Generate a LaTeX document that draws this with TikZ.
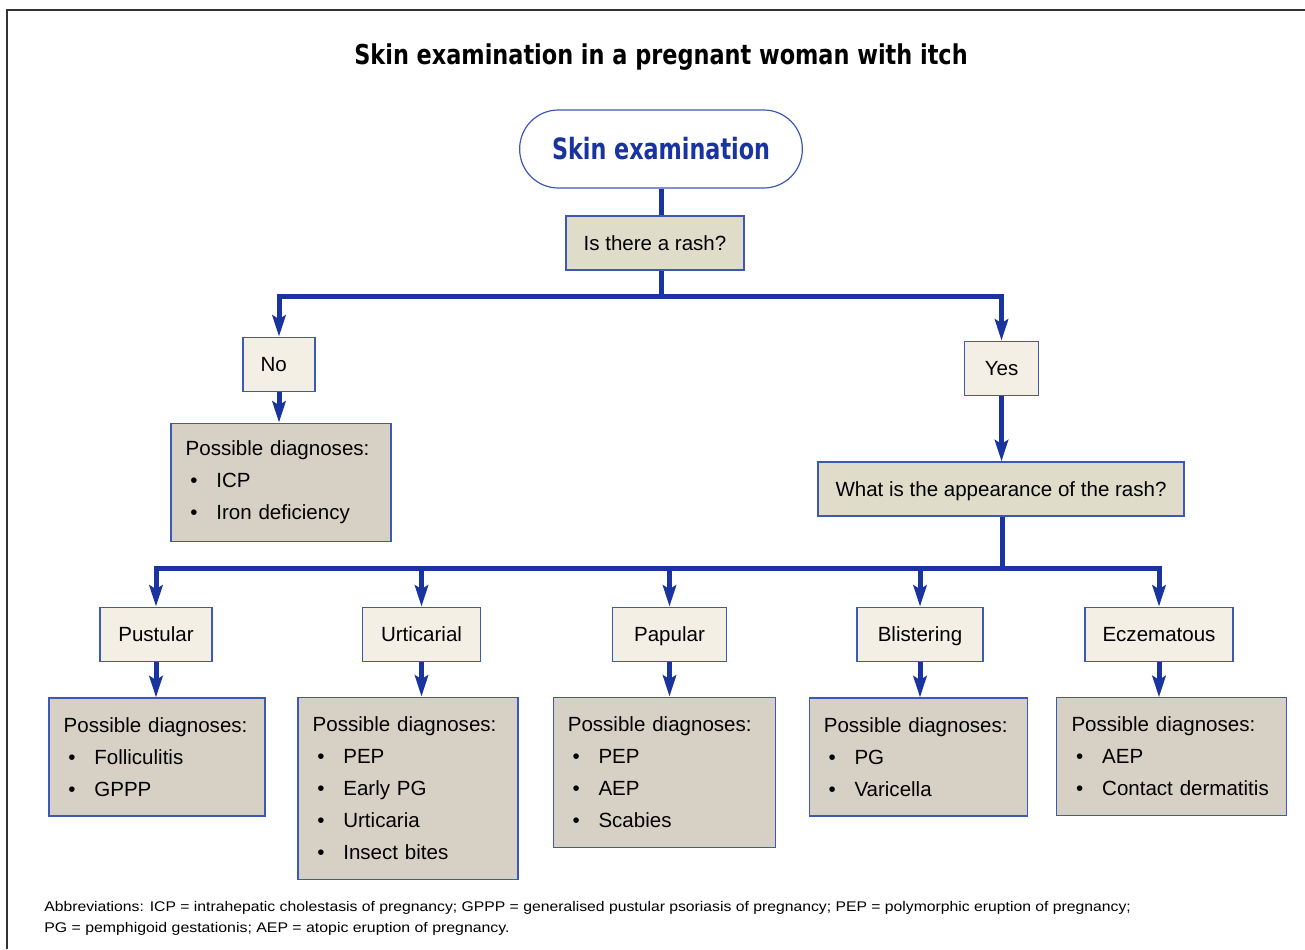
\documentclass[tikz,border=0pt]{standalone}
\usepackage{fontspec}
\setmainfont{Liberation Sans}
\newfontfamily\condfont{DejaVu Sans Condensed Bold}
\usetikzlibrary{arrows.meta}
\definecolor{flowblue}{RGB}{25,52,158}
\definecolor{edgeblue}{RGB}{62,88,182}
\definecolor{askfill}{RGB}{223,220,202}
\definecolor{answerfill}{RGB}{243,239,228}
\definecolor{dxfill}{RGB}{214,209,196}
\newcommand{\dxitem}[1]{\makebox[23pt][l]{\hspace{3.5pt}\textbullet}#1}
\begin{document}
\begin{tikzpicture}[x=0.75pt, y=-0.75pt,
    font=\fontsize{15.4}{24}\selectfont,
    box/.style={draw=edgeblue, line width=0.9pt, inner sep=0pt, minimum height=41pt,
      text height=13pt, text depth=2pt},
    ask/.style={box, fill=askfill, minimum height=40.5pt},
    answer/.style={box, fill=answerfill},
    dx/.style={draw=edgeblue, line width=0.9pt, fill=dxfill, inner xsep=11pt, inner ysep=0pt,
      text width=#1, align=left},
    link/.style={flowblue, line width=3.75pt},
    arrow/.style={link, -{Stealth[length=16pt, width=10pt, inset=3pt]}}]
  % the page is the 1305 x 949 px reference, so coordinates below are in its pixels
  \useasboundingbox (0,0) rectangle (1305,949);
  \draw[black!80, line width=1.5pt] (1305,10) -- (7,10) -- (7,949);
  \node (title) at (661,57) {\resizebox{460pt}{\height}{\fontsize{20.5}{24}\condfont Skin examination in a pregnant woman with itch}};
  \node[draw=edgeblue, line width=0.9pt, fill=white, minimum width=212pt, minimum height=58.5pt,
    rounded corners=29pt, text=flowblue] (skin) at (661,149)
    {\resizebox{163.5pt}{\height}{\fontsize{22}{24}\condfont Skin examination}};
  \node[ask, minimum width=133.5pt] (rash) at (655,243) {Is there a rash?};
  \node[answer, minimum width=54pt] (no) at (279,364.5) {\hspace{-8pt}No};
  \node[answer, minimum width=56pt] (yes) at (1001.5,368.5) {Yes};
  \node[dx=143pt, minimum height=89pt] (nodx) at (281,482.5)
    {Possible diagnoses:\\ \dxitem{ICP}\\ \dxitem{Iron deficiency}};
  \node[ask, minimum width=274.5pt] (look) at (1001,489) {What is the appearance of the rash?};
  % the five kinds of rash
  \node[answer, minimum width=84pt] (pust) at (156,634.5) {Pustular};
  \node[answer, minimum width=89pt] (urti) at (421.5,634.5) {Urticarial};
  \node[answer, minimum width=85pt] (papu) at (669.5,634.5) {Papular};
  \node[answer, minimum width=94.5pt] (blis) at (920,634.5) {Blistering};
  \node[answer, minimum width=111pt] (ecze) at (1159,634.5) {Eczematous};
  \node[dx=140pt, minimum height=88.5pt] (pustdx) at (157,757)
    {Possible diagnoses:\\ \dxitem{Folliculitis}\\ \dxitem{GPPP}};
  \node[dx=143pt, minimum height=137pt] (urtidx) at (408,788.5)
    {Possible diagnoses:\\ \dxitem{PEP}\\ \dxitem{Early PG}\\ \dxitem{Urticaria}\\ \dxitem{Insect bites}};
  \node[dx=145pt, minimum height=113pt] (papudx) at (664.5,772.5)
    {Possible diagnoses:\\ \dxitem{PEP}\\ \dxitem{AEP}\\ \dxitem{Scabies}};
  \node[dx=142pt, minimum height=88.5pt] (blisdx) at (918.5,757)
    {Possible diagnoses:\\ \dxitem{PG}\\ \dxitem{Varicella}};
  \node[dx=150pt, minimum height=88pt] (eczedx) at (1171.5,756.5)
    {Possible diagnoses:\\ \dxitem{AEP}\\ \dxitem{Contact dermatitis}};
  \node[anchor=north west, align=left, inner sep=0pt, font=\fontsize{10.5}{15.5}\selectfont] (abbrev) at (44,901)
    {\resizebox{815pt}{\height}{Abbreviations: ICP = intrahepatic cholestasis of pregnancy; GPPP = generalised pustular psoriasis of pregnancy; PEP = polymorphic eruption of pregnancy;}\\
     \resizebox{349pt}{\height}{PG = pemphigoid gestationis; AEP = atopic eruption of pregnancy.}};
  % forks: rash question at y = 296, appearance question at y = 568
  \coordinate (fork1) at (661,296);
  \coordinate (fork2) at (1002,568);
  \draw[link] (skin.south) -- (skin.south |- rash.north);
  \draw[link] (fork1 |- rash.south) -- (fork1);
  \draw[arrow] (fork1) -| (no);
  \draw[arrow] (fork1) -| (yes);
  \draw[arrow] (no) -- (no |- nodx.north);
  \draw[arrow] (yes) -- (yes |- look.north);
  \draw[link] (fork2 |- look.south) -- (fork2);
  \draw[arrow] (fork2) -| (pust);
  \draw[arrow] (fork2) -| (urti);
  \draw[arrow] (fork2) -| (papu);
  \draw[arrow] (fork2) -| (blis);
  \draw[arrow] (fork2) -| (ecze);
  \draw[arrow] (pust) -- (pust |- pustdx.north);
  \draw[arrow] (urti) -- (urti |- urtidx.north);
  \draw[arrow] (papu) -- (papu |- papudx.north);
  \draw[arrow] (blis) -- (blis |- blisdx.north);
  \draw[arrow] (ecze) -- (ecze |- eczedx.north);
\end{tikzpicture}
\end{document}
